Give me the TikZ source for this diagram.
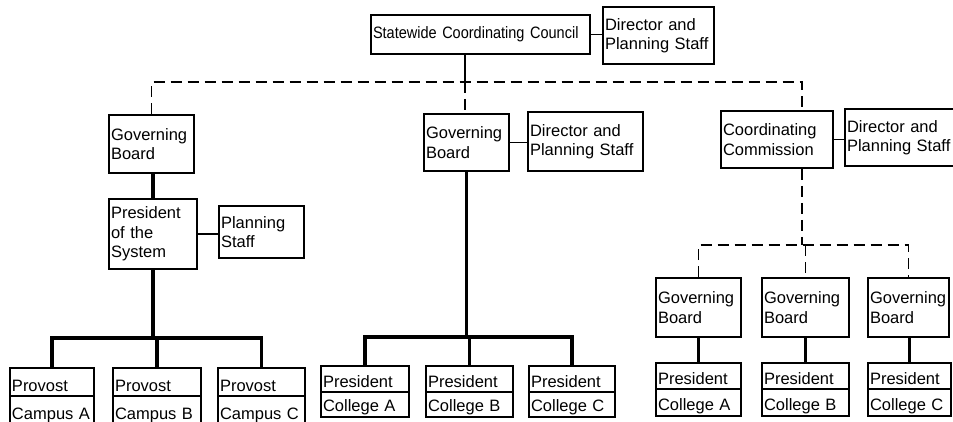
\documentclass[tikz,border=0pt]{standalone}
\usepackage{fontspec}
\setmainfont{Liberation Sans}
\newfontfamily\narrowsans[FakeStretch=0.88]{Liberation Sans}
\usepackage{tikz}
\usetikzlibrary{shapes.multipart}
\newcommand{\rowstrut}[2]{\rule[-#2pt]{0pt}{#1pt}}

\begin{document}
\begin{tikzpicture}[x=1pt, y=-1pt,
  box/.style={draw, line width=2pt, anchor=north west, inner xsep=2pt, inner ysep=1pt, align=left, font=\fontsize{16.5}{19.5}\selectfont},
  splitbox/.style={box, rectangle split, rectangle split parts=2, inner ysep=0pt},
  link/.style={line width=1.4pt},
  trunk/.style={line width=3.5pt},
  dashlink/.style={line width=1.4pt, dash pattern=on 11pt off 6pt}]
\useasboundingbox (0,0) rectangle (953,422);

\node[box, text width=215, minimum height=39, font=\narrowsans\fontsize{16.5}{19.5}\selectfont] (council) at (370,14) {Statewide Coordinating Council};
\node[box, text width=107, minimum height=57] (dirtop) at (602,6) {Director and\\Planning Staff};

\node[box, text width=81, minimum height=58] (gbL) at (108,114) {Governing\\Board};
\node[box, text width=84, minimum height=70] (presL) at (108,198) {President\\of the\\System};
\node[box, text width=81, minimum height=52] (planL) at (218,205) {Planning\\Staff};
\node[splitbox, text width=80] (provA) at (9,367) {\rowstrut{26}{4}Provost\nodepart{two}\rowstrut{32}{10}Campus A};
\node[splitbox, text width=84] (provB) at (112,367) {\rowstrut{26}{4}Provost\nodepart{two}\rowstrut{32}{10}Campus B};
\node[splitbox, text width=83] (provC) at (217,367) {\rowstrut{26}{4}Provost\nodepart{two}\rowstrut{32}{10}Campus C};

\node[box, text width=81, minimum height=57] (gbM) at (423,113) {Governing\\Board};
\node[box, text width=111, minimum height=59] (dirM) at (527,111) {Director and\\Planning Staff};
\node[splitbox, text width=84] (presCA) at (320,365) {\rowstrut{24}{4}President\nodepart{two}\rowstrut{23}{5}College A};
\node[splitbox, text width=83] (presCB) at (425,365) {\rowstrut{24}{4}President\nodepart{two}\rowstrut{23}{5}College B};
\node[splitbox, text width=82] (presCC) at (528,365) {\rowstrut{24}{4}President\nodepart{two}\rowstrut{23}{5}College C};

\node[box, text width=108, minimum height=57] (comm) at (720,110) {Coordinating\\Commission};
\node[box, text width=113, minimum height=57] (dirR) at (844,108) {Director and\\Planning Staff};
\node[box, text width=81, minimum height=59] (gbR1) at (655,277) {Governing\\Board};
\node[box, text width=83, minimum height=59] (gbR2) at (761,277) {Governing\\Board};
\node[box, text width=77, minimum height=59] (gbR3) at (867,277) {Governing\\Board};
\node[splitbox, text width=81] (presR1) at (655,362) {\rowstrut{24}{4}President\nodepart{two}\rowstrut{25}{5}College A};
\node[splitbox, text width=83] (presR2) at (761,362) {\rowstrut{24}{4}President\nodepart{two}\rowstrut{25}{5}College B};
\node[splitbox, text width=79] (presR3) at (867,362) {\rowstrut{24}{4}President\nodepart{two}\rowstrut{25}{5}College C};

\coordinate (hub) at (465,82);
\coordinate (cdrop) at (802,82);
\coordinate (hubR) at (802,245);
\coordinate (busL) at (152,338);
\coordinate (busM) at (465,337);

\draw[link] (council.east) -- (council.east -| dirtop.west);
\draw[link] (council.south -| hub) -- (hub);
\draw[dashlink] (hub) -- (gbM.north -| hub);
\draw[dashlink] (gbL.north) |- (cdrop) -- (cdrop |- comm.north);

\draw[trunk] (presL.north |- gbL.south) -- (presL.north);
\draw[link] (presL.east) -- (presL.east -| planL.west);
\draw[trunk] (presL.south) -- (presL.south |- busL);
\draw[trunk] (provA.north) |- (busL) -| (provC.north);
\draw[trunk] (provB.north |- busL) -- (provB.north);

\draw[link] (gbM.east) -- (gbM.east -| dirM.west);
\draw[trunk] (gbM.south) -- (gbM.south |- busM);
\draw[trunk] (presCA.north) |- (busM) -| (presCC.north);
\draw[trunk] (presCB.north |- busM) -- (presCB.north);

\draw[link] (comm.east) -- (comm.east -| dirR.west);
\draw[dashlink] (comm.south -| hubR) -- (hubR);
\draw[dashlink] (gbR1.north) |- (hubR) -| (gbR3.north);
\draw[dashlink] (gbR2.north |- hubR) -- (gbR2.north);
\draw[trunk] (gbR1.south) -- (presR1.north);
\draw[trunk] (gbR2.south) -- (presR2.north);
\draw[trunk] (presR3.north |- gbR3.south) -- (presR3.north);
\end{tikzpicture}
\end{document}
